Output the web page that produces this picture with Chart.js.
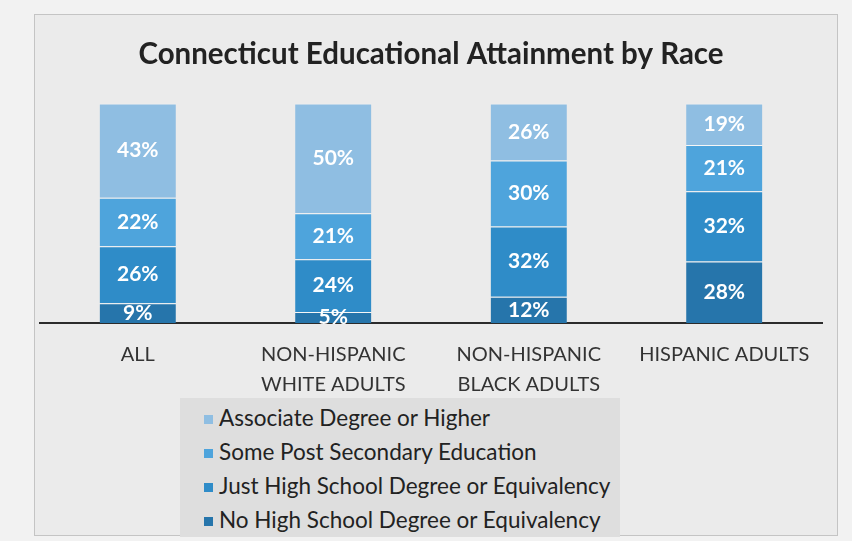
<!DOCTYPE html>
<html>
<head>
<meta charset="utf-8">
<script src="https://cdn.jsdelivr.net/npm/chart.js@4/dist/chart.umd.min.js"></script>
<style>
  body { margin: 0; background: #f2f2f2; }
  #wrap { position: relative; width: 852px; height: 541px; overflow: hidden; }
  #frame { position: absolute; left: 34px; top: 14px; width: 802px; height: 520px;
           background: #ebebeb; border: 1px solid #c4c4c4; }
  #chart { position: absolute; left: 0; top: 0; }
  #legend { position: absolute; left: 180px; top: 398px; width: 440px; height: 139px;
            background: #dedede; box-sizing: border-box; padding: 3px 0 0 24px;
            font-family: Lato, "Open Sans", sans-serif; font-size: 22.5px; color: #222; white-space: nowrap; }
  #legend div { height: 34px; line-height: 34px; }
  #legend span { display: inline-block; width: 9px; height: 9px; margin-right: 6px; vertical-align: 2px; }
</style>
</head>
<body>
<div id="wrap">
  <div id="frame"></div>
  <canvas id="chart" width="852" height="541"></canvas>
  <div id="legend"></div>
</div>
<script>
// categories and series (stacked from bottom to top)
const categories = [["ALL"], ["NON-HISPANIC", "WHITE ADULTS"], ["NON-HISPANIC", "BLACK ADULTS"], ["HISPANIC ADULTS"]];
const noHighSchool = [9, 5, 12, 28];
const justHighSchool = [26, 24, 32, 32];
const somePostSecondary = [22, 21, 30, 21];
const associateOrHigher = [43, 50, 26, 19];

const seriesNames = [
  "No High School Degree or Equivalency",
  "Just High School Degree or Equivalency",
  "Some Post Secondary Education",
  "Associate Degree or Higher",
];
const seriesColors = ["#2675ab", "#2f8cc8", "#4ea4dc", "#8fbee2"];

// draws the white percentage labels in the middle of each segment
const segmentLabels = {
  id: "segmentLabels",
  afterDatasetsDraw(chart) {
    const ctx = chart.ctx;
    ctx.save();
    ctx.fillStyle = "#ffffff";
    ctx.font = "bold 21px Lato, 'Open Sans', sans-serif";
    ctx.textAlign = "center";
    ctx.textBaseline = "middle";
    chart.data.datasets.forEach((ds, i) => {
      chart.getDatasetMeta(i).data.forEach((bar, j) => {
        const mid = (bar.y + bar.base) / 2;
        ctx.fillText(ds.data[j] + "%", bar.x, mid);
      });
    });
    ctx.restore();
  },
};

const datasets = [noHighSchool, justHighSchool, somePostSecondary, associateOrHigher].map((d, i) => ({
  label: seriesNames[i],
  data: d,
  backgroundColor: seriesColors[i],
  borderColor: "rgba(255,255,255,0.55)",
  borderWidth: { top: 1 },
  borderSkipped: false,
  barPercentage: 0.39,
  categoryPercentage: 1,
}));

const chart = new Chart(document.getElementById("chart"), {
  type: "bar",
  data: { labels: categories, datasets: datasets },
  plugins: [segmentLabels],
  options: {
    responsive: false,
    animation: false,
    layout: { padding: { left: 40, right: 30, top: 0, bottom: 132 } },
    scales: {
      x: {
        stacked: true,
        grid: { display: false },
        border: { display: true, color: "#2b2b2b", width: 2 },
        ticks: { color: "#333", padding: 9, font: { family: "Lato, 'Open Sans', sans-serif", size: 20, lineHeight: 1.5 } },
      },
      y: { stacked: true, display: false, min: 0, max: 100 },
    },
    plugins: {
      legend: { display: false },
      tooltip: { enabled: false },
      title: {
        display: true,
        text: "Connecticut Educational Attainment by Race",
        color: "#222",
        font: { family: "Lato, 'Open Sans', sans-serif", size: 29.5, weight: "bold" },
        padding: { top: 37, bottom: 31 },
      },
    },
  },
});

// legend as a vertical list, top series first
const legendEl = document.getElementById("legend");
chart.data.datasets.slice().reverse().forEach((ds) => {
  const row = document.createElement("div");
  const box = document.createElement("span");
  box.style.background = ds.backgroundColor;
  row.appendChild(box);
  row.appendChild(document.createTextNode(ds.label));
  legendEl.appendChild(row);
});
</script>
</body>
</html>
